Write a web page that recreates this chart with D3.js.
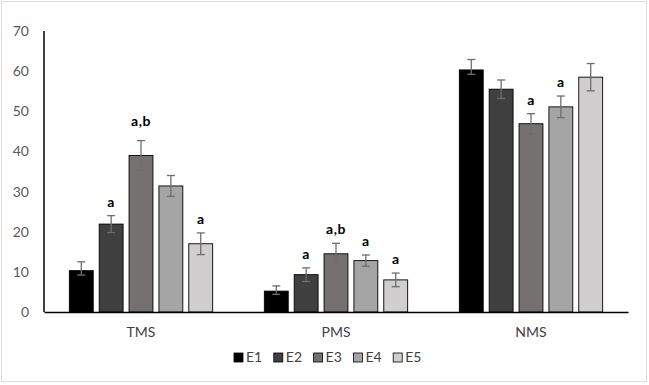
<!DOCTYPE html>
<html>
<head>
<meta charset="utf-8">
<script src="https://cdn.jsdelivr.net/npm/d3@7"></script>
<style>
  body { margin: 0; background: #fff; }
  text { font-family: Lato, "Open Sans", sans-serif; }
</style>
</head>
<body>
<div class="canva"></div>
<script>
// data
const categories = ["TMS", "PMS", "NMS"];
const series = ["E1", "E2", "E3", "E4", "E5"];
const colors = ["#000000", "#404040", "#767171", "#a5a5a5", "#d0cece"];
// values[series][category]
const values = [
  [10.3, 5.2, 60.3],
  [21.9, 9.3, 55.5],
  [39.0, 14.5, 46.9],
  [31.4, 12.8, 51.1],
  [17.0, 8.0, 58.5]
];
const errUp = [
  [2.2, 1.3, 2.6],
  [2.1, 1.7, 2.3],
  [3.7, 2.6, 2.5],
  [2.6, 1.4, 2.7],
  [2.7, 1.7, 3.4]
];
const errDown = [
  [1.1, 0.8, 1.1],
  [2.1, 1.7, 2.3],
  [3.7, 2.6, 2.6],
  [2.6, 1.4, 2.7],
  [2.7, 1.7, 3.4]
];
const sigLabels = [
  ["", "", ""],
  ["a", "a", ""],
  ["a,b", "a,b", "a"],
  ["", "a", "a"],
  ["a", "a", ""]
];
const yTicks = [0, 10, 20, 30, 40, 50, 60, 70];

const width = 649, height = 385;
const margin = {top: 31, right: 21, bottom: 73, left: 44};
const graphWidth = width - margin.left - margin.right;
const graphHeight = height - margin.top - margin.bottom;

const svg = d3.select(".canva").append("svg")
  .attr("width", width)
  .attr("height", height);

// chart frame
svg.append("rect")
  .attr("x", 1.5).attr("y", 1.5)
  .attr("width", 645).attr("height", 380)
  .attr("fill", "#fff")
  .attr("stroke", "#d9d9d9")
  .attr("stroke-width", 1);

const g = svg.append("g")
  .attr("transform", `translate(${margin.left}, ${margin.top})`);

const x0 = d3.scaleBand().domain(categories).range([0, graphWidth]).paddingInner(0.265).paddingOuter(0.13);
const x1 = d3.scaleBand().domain(series).range([0, x0.bandwidth()]).paddingInner(0.2).paddingOuter(0);
const y = d3.scaleLinear().domain([0, 70]).range([graphHeight, 0]);

// y axis labels
const yAxis = d3.axisLeft(y).tickValues(yTicks).tickSize(0).tickPadding(15);
const ya = g.append("g").call(yAxis);
ya.select(".domain").remove();
ya.selectAll("text")
  .attr("fill", "#595959")
  .style("font-size", "14px");

// bars
const rows = [];
series.forEach((s, i) => categories.forEach((c, j) => rows.push({
  s, c, i, v: values[i][j], up: errUp[i][j], dn: errDown[i][j], lab: sigLabels[i][j]
})));

const bw = x1.bandwidth();
g.selectAll("rect.bar").data(rows).join("rect")
  .attr("class", "bar")
  .attr("x", d => x0(d.c) + x1(d.s))
  .attr("y", d => y(d.v))
  .attr("width", bw)
  .attr("height", d => y(0) - y(d.v))
  .attr("fill", d => colors[d.i])
  .attr("stroke", "#000")
  .attr("stroke-width", 0.9);

// error bars
const eb = g.selectAll("g.err").data(rows).join("g")
  .attr("class", "err")
  .attr("transform", d => `translate(${x0(d.c) + x1(d.s) + bw / 2}, 0)`)
  .attr("stroke", "#6e6e6e")
  .attr("stroke-width", 1.3);
eb.append("line")
  .attr("y1", d => y(d.v + d.up)).attr("y2", d => y(d.v - d.dn));
eb.append("line")
  .attr("x1", -4).attr("x2", 4)
  .attr("y1", d => y(d.v + d.up)).attr("y2", d => y(d.v + d.up));
eb.append("line")
  .attr("x1", -4).attr("x2", 4)
  .attr("y1", d => y(d.v - d.dn)).attr("y2", d => y(d.v - d.dn));

// significance letters
g.selectAll("text.sig").data(rows.filter(d => d.lab)).join("text")
  .attr("class", "sig")
  .attr("x", d => x0(d.c) + x1(d.s) + bw / 2)
  .attr("y", d => y(d.v + d.up) - (d.c === "TMS" && d.lab === "a,b" ? 15 : 9))
  .attr("text-anchor", "middle")
  .attr("font-weight", "bold")
  .attr("font-size", "14px")
  .attr("letter-spacing", "0.5px")
  .attr("fill", "#000")
  .text(d => d.lab);

// x axis line and labels
const xAxis = d3.axisBottom(x0).tickSize(0).tickPadding(15);
const xa = g.append("g")
  .attr("transform", `translate(0, ${graphHeight})`)
  .call(xAxis);
xa.select(".domain").attr("stroke", "#000").attr("stroke-width", 1.5);
xa.selectAll("text").attr("fill", "#404040").style("font-size", "14px");

// y axis line
g.append("line")
  .attr("x1", 0).attr("x2", 0)
  .attr("y1", 0).attr("y2", graphHeight)
  .attr("stroke", "#000").attr("stroke-width", 1.5);

// legend
const legend = svg.append("g").attr("transform", "translate(234, 357.5)");
const item = legend.selectAll("g").data(series).join("g")
  .attr("transform", (d, i) => `translate(${i * 39.8}, 0)`);
item.append("rect")
  .attr("x", 0).attr("y", -4.5)
  .attr("width", 9).attr("height", 9)
  .attr("fill", (d, i) => colors[i])
  .attr("stroke", "#000").attr("stroke-width", 0.8);
item.append("text")
  .attr("x", 12).attr("y", 0)
  .attr("dy", "0.35em")
  .attr("fill", "#404040")
  .style("font-size", "14px")
  .text(d => d);
</script>
</body>
</html>
